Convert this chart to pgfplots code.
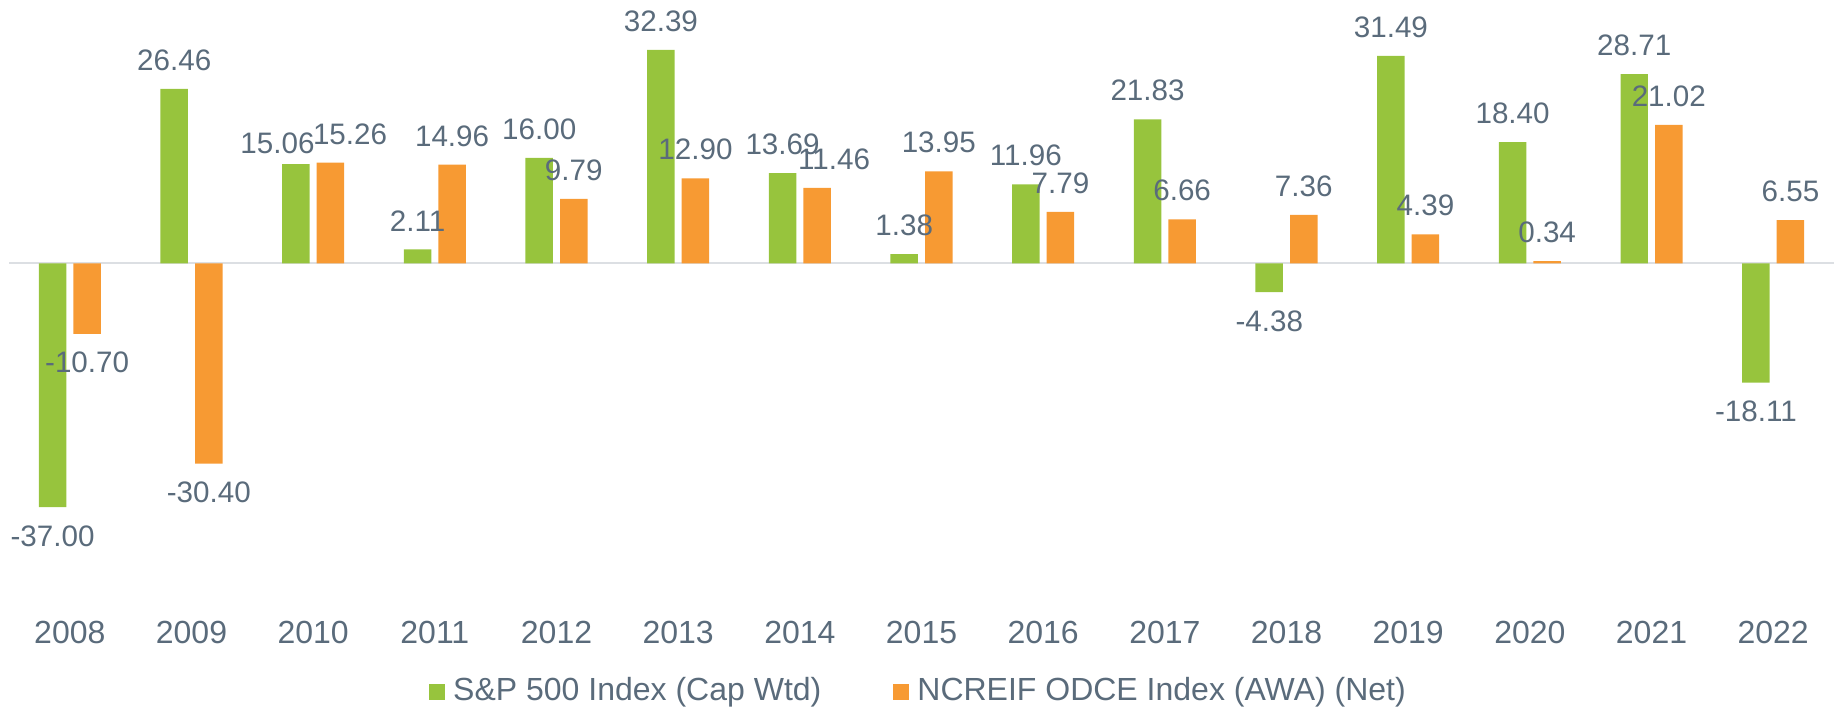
\documentclass[border=0pt]{standalone}
\usepackage{pgfplots}
\pgfplotsset{compat=1.18}
\usepackage{fontspec}
\setmainfont{Liberation Sans}

\definecolor{spgreen}{HTML}{97C43D}
\definecolor{odceorange}{HTML}{F79A33}
\definecolor{txt}{HTML}{5A6B7B}
\definecolor{zeroline}{HTML}{DCDFE3}

\begin{document}
\begin{tikzpicture}
\useasboundingbox (-2.25pt,-29.05pt) rectangle (457.5pt,148.2pt);
\begin{axis}[
  scale only axis, width=456.25pt, height=144.98pt,
  ybar, bar width=0.226,
  xmin=-0.5, xmax=14.5, ymin=-50, ymax=38,
  xtick={0,...,14},
  xticklabels={2008,2009,2010,2011,2012,2013,2014,2015,2016,2017,2018,2019,2020,2021,2022},
  xticklabel style={font=\fontsize{8}{9}\selectfont, text=txt, yshift=-3.5pt},
  major tick length=0pt,
  ytick=\empty,
  extra y ticks={0}, extra y tick labels={},
  extra y tick style={ymajorgrids=true, major grid style={zeroline, line width=0.5pt}},
  axis line style={draw=none},
  /pgf/number format/assume math mode=true,
  visualization depends on={\thisrow{dx} \as \lblx},
  visualization depends on={\thisrow{dy} \as \lbly},
  nodes near coords={\pgfmathprintnumber[fixed,fixed zerofill,precision=2]{\pgfplotspointmeta}},
  every node near coord/.append style={font=\fontsize{7.4}{8.4}\selectfont, text=txt,
                inner sep=4.4pt, xshift=\lblx pt, yshift=\lbly pt},
  legend columns=2,
  legend style={at={(0.5,-0.171)}, anchor=center, draw=none, fill=none,
                font=\fontsize{8}{9}\selectfont, text=txt,
                /tikz/every even column/.append style={column sep=16pt}},
  legend image code/.code={\fill[#1] (0pt,-2pt) rectangle (4pt,2pt);},
]
% S&P 500 Index (Cap Wtd); dx/dy shift the value label (pt)
\addplot[fill=spgreen, draw=none, bar shift=-0.142] table[x=x, y=y] {
x  y       dx    dy
0  -37.00  0     0
1  26.46   0     0
2  15.06   -4.6  -2.1
3  2.11    0     0
4  16.00   0     0
5  32.39   0     0
6  13.69   0     0
7  1.38    0     0
8  11.96   0     0
9  21.83   0     0
10 -4.38   0     0
11 31.49   0     0
12 18.40   0     0
13 28.71   0     0
14 -18.11  0     0
};
% NCREIF ODCE Index (AWA) (Net)
\addplot[fill=odceorange, draw=none, bar shift=0.142] table[x=x, y=y] {
x  y       dx    dy
0  -10.70  0     0
1  -30.40  0     0
2  15.26   4.9   0
3  14.96   0     0
4  9.79    0     0
5  12.90   0     0
6  11.46   4.25  0
7  13.95   0     0
8  7.79    0     0
9  6.66    0     0
10 7.36    0     0
11 4.39    0     0
12 0.34    0     0
13 21.02   0     0
14 6.55    0     0
};
\legend{S\&P 500 Index (Cap Wtd), NCREIF ODCE Index (AWA) (Net)}
\end{axis}
\end{tikzpicture}
\end{document}
